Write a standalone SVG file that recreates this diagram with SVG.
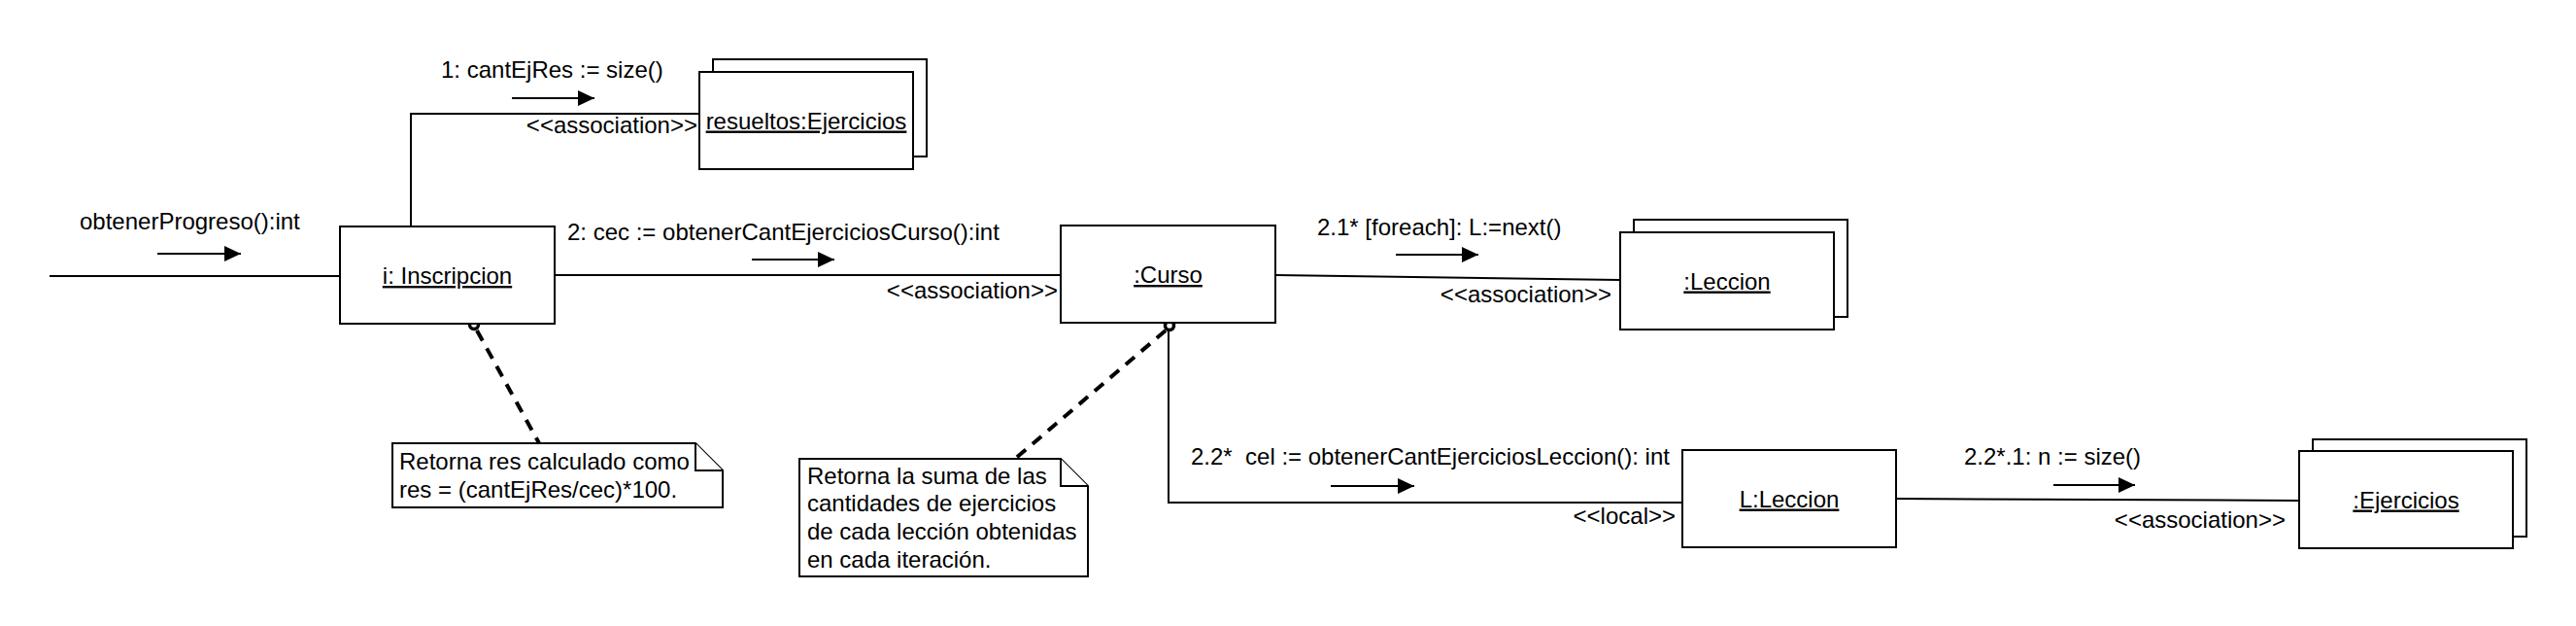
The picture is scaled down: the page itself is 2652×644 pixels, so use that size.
<svg xmlns="http://www.w3.org/2000/svg" width="2652" height="644" viewBox="0 0 2652 644">
<style>
  text { font-family: "Liberation Sans", Arial, sans-serif; font-size: 24px; fill: #000; }
  .name { text-anchor: middle; text-decoration: underline; }
  .end { text-anchor: end; }
  .box { fill: #fff; stroke: #000; stroke-width: 2; }
  .conn { fill: none; stroke: #000; stroke-width: 2; }
  .msg { fill: none; stroke: #000; stroke-width: 2; marker-end: url(#tri); }
  .dash { fill: none; stroke: #000; stroke-width: 4; stroke-dasharray: 12 9; }
  .anchor { fill: #fff; stroke: #000; stroke-width: 3.5; }
  .note { fill: #fff; stroke: #000; stroke-width: 2; stroke-linejoin: miter; }
</style>
<defs>
  <marker id="tri" markerUnits="userSpaceOnUse" markerWidth="18" markerHeight="18" refX="17" refY="8" orient="auto">
    <path d="M0,0 L17,8 L0,16 Z" fill="#000"/>
  </marker>
</defs>
<rect width="2652" height="644" fill="#fff"/>

<g id="connectors">
  <line class="conn" x1="51" y1="284" x2="350" y2="284"/>
  <polyline class="conn" points="423,233 423,117 720,117"/>
  <line class="conn" x1="571" y1="283" x2="1092" y2="283"/>
  <line class="conn" x1="1313" y1="283" x2="1668" y2="288"/>
  <polyline class="conn" points="1203,332 1203,517 1732,517"/>
  <line class="conn" x1="1952" y1="513" x2="2367" y2="515"/>
  <line class="dash" x1="491" y1="340" x2="555" y2="456"/>
  <line class="dash" x1="1200" y1="340" x2="1045" y2="472"/>
  <circle class="anchor" cx="488" cy="334" r="4.5"/>
  <circle class="anchor" cx="1204" cy="335" r="4.5"/>

  <line class="msg" x1="162" y1="261" x2="248" y2="261"/>
  <line class="msg" x1="527" y1="101" x2="612" y2="101"/>
  <line class="msg" x1="774" y1="267" x2="859" y2="267"/>
  <line class="msg" x1="1437" y1="262" x2="1522" y2="262"/>
  <line class="msg" x1="1370" y1="500" x2="1456" y2="500"/>
  <line class="msg" x1="2114" y1="499" x2="2198" y2="499"/>

  <text x="82" y="236">obtenerProgreso():int</text>
  <text x="454" y="80">1: cantEjRes := size()</text>
  <text class="end" x="718" y="137">&lt;&lt;association&gt;&gt;</text>
  <text x="584" y="247">2: cec := obtenerCantEjerciciosCurso():int</text>
  <text class="end" x="1089" y="307">&lt;&lt;association&gt;&gt;</text>
  <text x="1356" y="242">2.1* [foreach]: L:=next()</text>
  <text class="end" x="1659" y="311">&lt;&lt;association&gt;&gt;</text>
  <text x="1226" y="478" xml:space="preserve">2.2*  cel := obtenerCantEjerciciosLeccion(): int</text>
  <text class="end" x="1725" y="539">&lt;&lt;local&gt;&gt;</text>
  <text x="2022" y="478">2.2*.1: n := size()</text>
  <text class="end" x="2353" y="543">&lt;&lt;association&gt;&gt;</text>
</g>

<g id="inscripcion">
  <rect class="box" x="350" y="233" width="221" height="100"/>
  <text class="name" x="460.5" y="292">i: Inscripcion</text>
</g>

<g id="resueltos">
  <rect class="box" x="734" y="61" width="220" height="100"/>
  <rect class="box" x="720" y="74" width="220" height="100"/>
  <text class="name" x="830" y="132.5">resueltos:Ejercicios</text>
</g>

<g id="curso">
  <rect class="box" x="1092" y="232" width="221" height="100"/>
  <text class="name" x="1202.5" y="291">:Curso</text>
</g>

<g id="leccion">
  <rect class="box" x="1682" y="226" width="220" height="100"/>
  <rect class="box" x="1668" y="239" width="220" height="100"/>
  <text class="name" x="1778" y="297.5">:Leccion</text>
</g>

<g id="lleccion">
  <rect class="box" x="1732" y="463" width="220" height="100"/>
  <text class="name" x="1842" y="521.5">L:Leccion</text>
</g>

<g id="ejercicios">
  <rect class="box" x="2381" y="452" width="220" height="100"/>
  <rect class="box" x="2367" y="464" width="220" height="100"/>
  <text class="name" x="2477" y="522.5">:Ejercicios</text>
</g>

<g id="note1">
  <path class="note" d="M404,456 L716,456 L744,484 L744,522 L404,522 Z"/>
  <path class="note" d="M716,456 L716,484 L744,484" fill="none"/>
  <text x="411" y="483">Retorna res calculado como</text>
  <text x="411" y="512">res = (cantEjRes/cec)*100.</text>
</g>

<g id="note2">
  <path class="note" d="M823,472 L1092,472 L1120,500 L1120,593 L823,593 Z"/>
  <path class="note" d="M1092,472 L1092,500 L1120,500" fill="none"/>
  <text x="831" y="497.5">Retorna la suma de las</text>
  <text x="831" y="526.2">cantidades de ejercicios</text>
  <text x="831" y="554.9">de cada lección obtenidas</text>
  <text x="831" y="583.6">en cada iteración.</text>
</g>
</svg>
